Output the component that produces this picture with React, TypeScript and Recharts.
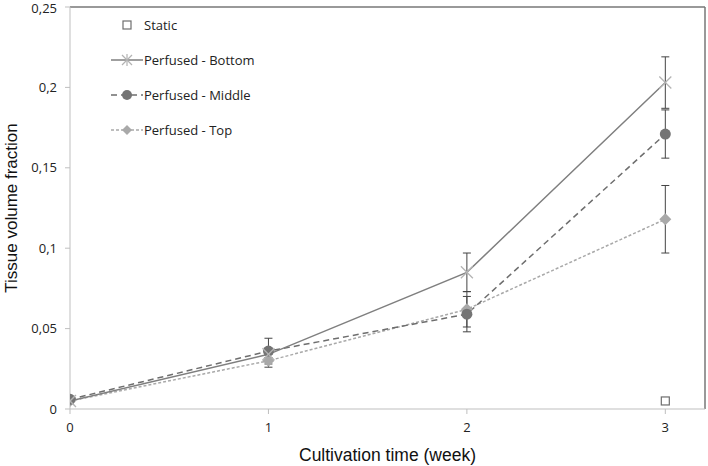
import React from "react"
import {
  ErrorBar,
  Line,
  LineChart,
  ReferenceLine,
  XAxis,
  YAxis,
} from "recharts"

const weeks = [0, 1, 2, 3]
const bottom = [0.005, 0.034, 0.085, 0.203]
const bottomErr = [0, 0.002, 0.012, 0.016]
const middle = [0.006, 0.036, 0.059, 0.171]
const middleErr = [0, 0.008, 0.011, 0.015]
const top = [0.005, 0.03, 0.062, 0.118]
const topErr = [0, 0.004, 0.011, 0.021]
const staticVals: (number | null)[] = [null, null, null, 0.005]
const yTicks = [0, 0.05, 0.1, 0.15, 0.2, 0.25]
const xTicks = [0, 1, 2, 3]

const data = weeks.map((w, i) => ({
  week: w,
  bottom: bottom[i],
  bottomErr: bottomErr[i],
  middle: middle[i],
  middleErr: middleErr[i],
  top: top[i],
  topErr: topErr[i],
  stat: staticVals[i],
}))

const tickFont = "Open Sans, sans-serif"
const titleFont = "Liberation Sans, Arial, sans-serif"

const Cross = (p: any) => {
  const { cx, cy } = p
  if (cx == null || cy == null) return null
  const s = 6
  return (
    <g stroke="#b3b3b3" strokeWidth={1.3}>
      <line x1={cx - s} y1={cy - s} x2={cx + s} y2={cy + s} />
      <line x1={cx - s} y1={cy + s} x2={cx + s} y2={cy - s} />
    </g>
  )
}

const Circle = (p: any) => {
  const { cx, cy } = p
  if (cx == null || cy == null) return null
  return <circle cx={cx} cy={cy} r={5.5} fill="#747474" />
}

const Diamond = (p: any) => {
  const { cx, cy } = p
  if (cx == null || cy == null) return null
  const s = 6
  return (
    <polygon
      points={`${cx},${cy - s} ${cx + s},${cy} ${cx},${cy + s} ${cx - s},${cy}`}
      fill="#a9a9a9"
    />
  )
}

const Square = (p: any) => {
  const { cx, cy } = p
  if (cx == null || cy == null) return null
  return (
    <rect x={cx - 4} y={cy - 4} width={8} height={8} fill="#fff" stroke="#6e6e6e" strokeWidth={1.2} />
  )
}

const legendItems = [
  { name: "Static", kind: "static" },
  { name: "Perfused - Bottom", kind: "bottom" },
  { name: "Perfused - Middle", kind: "middle" },
  { name: "Perfused - Top", kind: "top" },
]

const LegendIcon = ({ kind }: { kind: string }) => (
  <svg width={32} height={14} style={{ display: "block" }}>
    {kind === "static" && (
      <rect x={12} y={3} width={8} height={8} fill="#fff" stroke="#6e6e6e" strokeWidth={1.2} />
    )}
    {kind === "bottom" && (
      <g>
        <line x1={0} y1={7} x2={32} y2={7} stroke="#7f7f7f" strokeWidth={1.5} />
        <line x1={11} y1={2} x2={21} y2={12} stroke="#b3b3b3" strokeWidth={1.2} />
        <line x1={11} y1={12} x2={21} y2={2} stroke="#b3b3b3" strokeWidth={1.2} />
        <line x1={16} y1={1} x2={16} y2={13} stroke="#b3b3b3" strokeWidth={1.2} />
      </g>
    )}
    {kind === "middle" && (
      <g>
        <line x1={0} y1={7} x2={32} y2={7} stroke="#6e6e6e" strokeWidth={1.5} strokeDasharray="6 4" />
        <circle cx={16} cy={7} r={5} fill="#747474" />
      </g>
    )}
    {kind === "top" && (
      <g>
        <line x1={0} y1={7} x2={32} y2={7} stroke="#a9a9a9" strokeWidth={1.5} strokeDasharray="3 2" />
        <polygon points="16,2 21,7 16,12 11,7" fill="#a9a9a9" />
      </g>
    )}
  </svg>
)

const ChartLegend = () => (
  <div
    style={{
      position: "absolute",
      left: 111,
      top: 7,
      fontFamily: tickFont,
      fontSize: 13,
      color: "#222",
    }}
  >
    {legendItems.map((it) => (
      <div
        key={it.name}
        style={{ display: "flex", alignItems: "center", height: 35 }}
      >
        <LegendIcon kind={it.kind} />
        <span style={{ marginLeft: 1 }}>{it.name}</span>
      </div>
    ))}
  </div>
)

export default function App() {
  return (
    <div style={{ position: "absolute", left: 0, top: 0, background: "#fff" }}>
      <LineChart
        width={708}
        height={466}
        data={data}
        margin={{ top: 7, right: 3, bottom: 0, left: 10 }}
      >
        <XAxis
          dataKey="week"
          type="number"
          domain={[0, 3.2]}
          ticks={xTicks}
          allowDataOverflow
          height={57}
          axisLine={{ stroke: "#bfbfbf" }}
          tickLine={{ stroke: "#bfbfbf" }}
          tickSize={5}
          tick={{ fill: "#222", fontSize: 13, fontFamily: tickFont }}
          tickMargin={9}
          label={{
            value: "Cultivation time (week)",
            position: "insideBottom",
            offset: 5,
            style: { fill: "#111", fontSize: 17.5, fontFamily: titleFont },
          }}
        />
        <YAxis
          type="number"
          domain={[0, 0.25]}
          ticks={yTicks}
          width={60}
          axisLine={{ stroke: "#bfbfbf" }}
          tickLine={{ stroke: "#bfbfbf" }}
          tickSize={5}
          tickMargin={8}
          tick={{ fill: "#222", fontSize: 13, fontFamily: tickFont }}
          tickFormatter={(v: number) => String(v).replace(".", ",")}
          label={{
            value: "Tissue volume fraction",
            angle: -90,
            position: "insideLeft",
            offset: 1,
            style: {
              fill: "#111",
              fontSize: 17,
              fontFamily: titleFont,
              textAnchor: "middle",
            },
          }}
        />
        <ReferenceLine y={0.25} stroke="#777" strokeWidth={1.5} ifOverflow="visible" />
        <ReferenceLine x={3.2} stroke="#777" strokeWidth={1.5} ifOverflow="visible" />
        <Line
          dataKey="top"
          stroke="#a9a9a9"
          strokeWidth={1.5}
          strokeDasharray="3 2"
          dot={<Diamond />}
          isAnimationActive={false}
        >
          <ErrorBar dataKey="topErr" direction="y" width={4} stroke="#444" strokeWidth={1} />
        </Line>
        <Line
          dataKey="middle"
          stroke="#6e6e6e"
          strokeWidth={1.5}
          strokeDasharray="6 4"
          dot={<Circle />}
          isAnimationActive={false}
        >
          <ErrorBar dataKey="middleErr" direction="y" width={4} stroke="#444" strokeWidth={1} />
        </Line>
        <Line
          dataKey="bottom"
          stroke="#7f7f7f"
          strokeWidth={1.5}
          dot={<Cross />}
          isAnimationActive={false}
        >
          <ErrorBar dataKey="bottomErr" direction="y" width={4} stroke="#444" strokeWidth={1} />
        </Line>
        <Line
          dataKey="stat"
          stroke="none"
          dot={<Square />}
          isAnimationActive={false}
          legendType="none"
        />
      </LineChart>
      <ChartLegend />
    </div>
  )
}
